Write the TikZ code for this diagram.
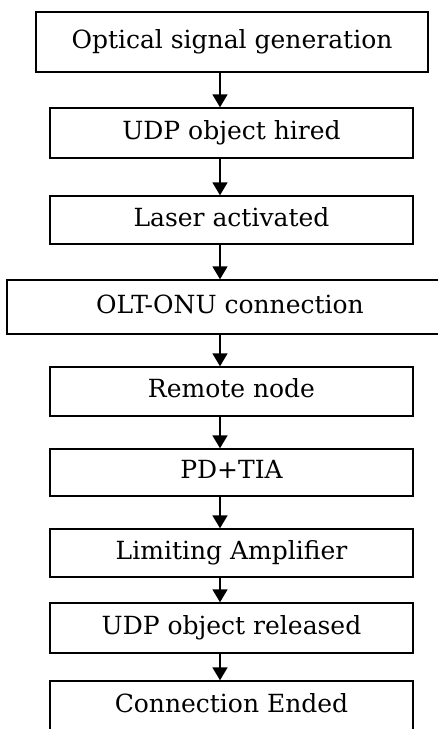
\documentclass[tikz,border=0pt]{standalone}
\usepackage{fontspec}
\setmainfont{DejaVu Serif}
\usetikzlibrary{arrows.meta}
\tikzstyle{stage} = [draw, line width=1.4pt, inner sep=0pt, font=\fontsize{25}{30}\selectfont, text height=18pt, text depth=6pt]
\tikzstyle{arrow} = [line width=1.6pt,-{Triangle[length=13pt,width=15pt]}]

\begin{document}
\begin{tikzpicture}[x=1pt,y=-1pt]
                \useasboundingbox (0,0) rectangle (438,729);
                \clip (0,0) rectangle (438,729);

                % Stages of the link, top to bottom
                \foreach \i/\cx/\cy/\w/\h/\txt in {
                    1/232/42/392/60/Optical signal generation,
                    2/231.5/133/363/50/UDP object hired,
                    3/231.5/220/363/48/Laser activated,
                    4/230/307/446/54/OLT-ONU connection,
                    5/231.5/391.5/363/49/Remote node,
                    6/231.5/472.5/363/47/PD+TIA,
                    7/231.5/553/363/48/Limiting Amplifier,
                    8/231.5/628/363/50/UDP object released,
                    9/231.5/706/363/50/Connection Ended}
                \node[stage, minimum width=\w pt, minimum height=\h pt] (S\i) at (\cx,\cy) {\txt};

                % Arrows run a little left of the box centres
                \coordinate (ax) at (220,0);
                \foreach \i [count=\j from 2] in {1,...,8}
                \draw [arrow] (S\i.south -| ax) -- (S\j.north -| ax);
            \end{tikzpicture}
\end{document}
